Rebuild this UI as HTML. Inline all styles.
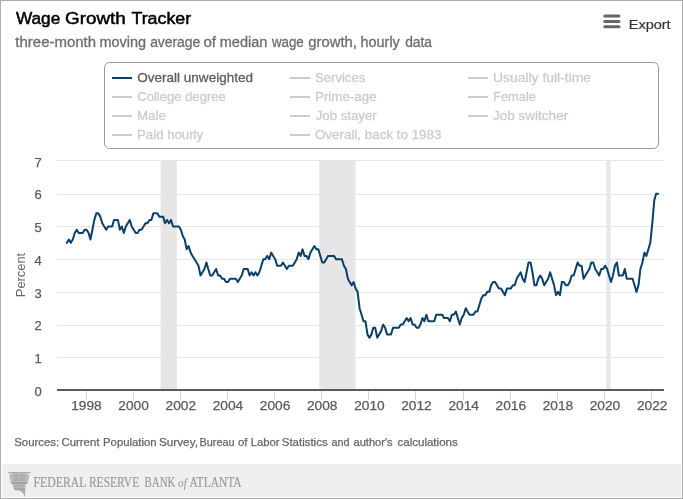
<!DOCTYPE html>
<html lang="en"><head><meta charset="utf-8"><title>Wage Growth Tracker</title>
<style>html,body{margin:0;padding:0;background:#fff}svg{display:block}text{font-family:"Liberation Sans", sans-serif}</style>
</head><body>
<svg width="683" height="499" viewBox="0 0 683 499">
<rect x="0" y="0" width="683" height="499" fill="#fff"/>
<rect x="2" y="464" width="679" height="33" fill="#efefef"/>
<rect x="0.5" y="0.5" width="682" height="498" fill="none" stroke="#adadab" stroke-width="1"/>
<line x1="604.8" y1="16.1" x2="619" y2="16.1" stroke="#666" stroke-width="3" stroke-linecap="round"/>
<line x1="604.8" y1="21.4" x2="619" y2="21.4" stroke="#666" stroke-width="3" stroke-linecap="round"/>
<line x1="604.8" y1="26.7" x2="619" y2="26.7" stroke="#666" stroke-width="3" stroke-linecap="round"/>
<rect x="104.5" y="62.5" width="554" height="86" rx="5" ry="5" fill="#fff" stroke="#999" stroke-width="1"/>
<line x1="112.0" y1="78.0" x2="132.0" y2="78.0" stroke="#0a4067" stroke-width="2"/>
<line x1="112.0" y1="97.0" x2="132.0" y2="97.0" stroke="#ccc" stroke-width="2"/>
<line x1="112.0" y1="116.0" x2="132.0" y2="116.0" stroke="#ccc" stroke-width="2"/>
<line x1="112.0" y1="135.0" x2="132.0" y2="135.0" stroke="#ccc" stroke-width="2"/>
<line x1="290.0" y1="78.0" x2="310.0" y2="78.0" stroke="#ccc" stroke-width="2"/>
<line x1="290.0" y1="97.0" x2="310.0" y2="97.0" stroke="#ccc" stroke-width="2"/>
<line x1="290.0" y1="116.0" x2="310.0" y2="116.0" stroke="#ccc" stroke-width="2"/>
<line x1="290.0" y1="135.0" x2="310.0" y2="135.0" stroke="#ccc" stroke-width="2"/>
<line x1="468.0" y1="78.0" x2="488.0" y2="78.0" stroke="#ccc" stroke-width="2"/>
<line x1="468.0" y1="97.0" x2="488.0" y2="97.0" stroke="#ccc" stroke-width="2"/>
<line x1="468.0" y1="116.0" x2="488.0" y2="116.0" stroke="#ccc" stroke-width="2"/>
<rect x="160.60" y="161" width="16.30" height="229" fill="#e6e6e6"/>
<rect x="319.30" y="161" width="36.20" height="229" fill="#e6e6e6"/>
<rect x="606.50" y="161" width="4.10" height="229" fill="#e6e6e6"/>
<line x1="57" y1="357.5" x2="664" y2="357.5" stroke="#e6e6e6" stroke-width="1"/>
<line x1="57" y1="325.5" x2="664" y2="325.5" stroke="#e6e6e6" stroke-width="1"/>
<line x1="57" y1="292.5" x2="664" y2="292.5" stroke="#e6e6e6" stroke-width="1"/>
<line x1="57" y1="259.5" x2="664" y2="259.5" stroke="#e6e6e6" stroke-width="1"/>
<line x1="57" y1="226.5" x2="664" y2="226.5" stroke="#e6e6e6" stroke-width="1"/>
<line x1="57" y1="194.5" x2="664" y2="194.5" stroke="#e6e6e6" stroke-width="1"/>
<line x1="57" y1="160.5" x2="664" y2="160.5" stroke="#e6e6e6" stroke-width="1"/>
<text x="38.2" y="395.6" font-size="13" fill="#5a5a5a" stroke="#5a5a5a" stroke-width="0.25" text-anchor="middle">0</text>
<text x="38.2" y="362.9" font-size="13" fill="#5a5a5a" stroke="#5a5a5a" stroke-width="0.25" text-anchor="middle">1</text>
<text x="38.2" y="330.2" font-size="13" fill="#5a5a5a" stroke="#5a5a5a" stroke-width="0.25" text-anchor="middle">2</text>
<text x="38.2" y="297.5" font-size="13" fill="#5a5a5a" stroke="#5a5a5a" stroke-width="0.25" text-anchor="middle">3</text>
<text x="38.2" y="264.8" font-size="13" fill="#5a5a5a" stroke="#5a5a5a" stroke-width="0.25" text-anchor="middle">4</text>
<text x="38.2" y="232.0" font-size="13" fill="#5a5a5a" stroke="#5a5a5a" stroke-width="0.25" text-anchor="middle">5</text>
<text x="38.2" y="199.3" font-size="13" fill="#5a5a5a" stroke="#5a5a5a" stroke-width="0.25" text-anchor="middle">6</text>
<text x="38.2" y="166.6" font-size="13" fill="#5a5a5a" stroke="#5a5a5a" stroke-width="0.25" text-anchor="middle">7</text>
<text transform="translate(25.2,275) rotate(-90)" font-size="13" fill="#666" text-anchor="middle" textLength="44.3" lengthAdjust="spacingAndGlyphs">Percent</text>
<line x1="86.5" y1="391" x2="86.5" y2="400" stroke="#ccd6eb" stroke-width="1"/>
<text x="86.5" y="410" font-size="13" fill="#5a5a5a" stroke="#5a5a5a" stroke-width="0.25" text-anchor="middle" textLength="30.5" lengthAdjust="spacingAndGlyphs">1998</text>
<line x1="133.5" y1="391" x2="133.5" y2="400" stroke="#ccd6eb" stroke-width="1"/>
<text x="133.6" y="410" font-size="13" fill="#5a5a5a" stroke="#5a5a5a" stroke-width="0.25" text-anchor="middle" textLength="30.5" lengthAdjust="spacingAndGlyphs">2000</text>
<line x1="180.5" y1="391" x2="180.5" y2="400" stroke="#ccd6eb" stroke-width="1"/>
<text x="180.8" y="410" font-size="13" fill="#5a5a5a" stroke="#5a5a5a" stroke-width="0.25" text-anchor="middle" textLength="30.5" lengthAdjust="spacingAndGlyphs">2002</text>
<line x1="227.5" y1="391" x2="227.5" y2="400" stroke="#ccd6eb" stroke-width="1"/>
<text x="227.9" y="410" font-size="13" fill="#5a5a5a" stroke="#5a5a5a" stroke-width="0.25" text-anchor="middle" textLength="30.5" lengthAdjust="spacingAndGlyphs">2004</text>
<line x1="274.5" y1="391" x2="274.5" y2="400" stroke="#ccd6eb" stroke-width="1"/>
<text x="275.1" y="410" font-size="13" fill="#5a5a5a" stroke="#5a5a5a" stroke-width="0.25" text-anchor="middle" textLength="30.5" lengthAdjust="spacingAndGlyphs">2006</text>
<line x1="321.5" y1="391" x2="321.5" y2="400" stroke="#ccd6eb" stroke-width="1"/>
<text x="322.2" y="410" font-size="13" fill="#5a5a5a" stroke="#5a5a5a" stroke-width="0.25" text-anchor="middle" textLength="30.5" lengthAdjust="spacingAndGlyphs">2008</text>
<line x1="368.5" y1="391" x2="368.5" y2="400" stroke="#ccd6eb" stroke-width="1"/>
<text x="369.4" y="410" font-size="13" fill="#5a5a5a" stroke="#5a5a5a" stroke-width="0.25" text-anchor="middle" textLength="30.5" lengthAdjust="spacingAndGlyphs">2010</text>
<line x1="415.5" y1="391" x2="415.5" y2="400" stroke="#ccd6eb" stroke-width="1"/>
<text x="416.5" y="410" font-size="13" fill="#5a5a5a" stroke="#5a5a5a" stroke-width="0.25" text-anchor="middle" textLength="30.5" lengthAdjust="spacingAndGlyphs">2012</text>
<line x1="463.5" y1="391" x2="463.5" y2="400" stroke="#ccd6eb" stroke-width="1"/>
<text x="463.7" y="410" font-size="13" fill="#5a5a5a" stroke="#5a5a5a" stroke-width="0.25" text-anchor="middle" textLength="30.5" lengthAdjust="spacingAndGlyphs">2014</text>
<line x1="510.5" y1="391" x2="510.5" y2="400" stroke="#ccd6eb" stroke-width="1"/>
<text x="510.8" y="410" font-size="13" fill="#5a5a5a" stroke="#5a5a5a" stroke-width="0.25" text-anchor="middle" textLength="30.5" lengthAdjust="spacingAndGlyphs">2016</text>
<line x1="557.5" y1="391" x2="557.5" y2="400" stroke="#ccd6eb" stroke-width="1"/>
<text x="557.9" y="410" font-size="13" fill="#5a5a5a" stroke="#5a5a5a" stroke-width="0.25" text-anchor="middle" textLength="30.5" lengthAdjust="spacingAndGlyphs">2018</text>
<line x1="604.5" y1="391" x2="604.5" y2="400" stroke="#ccd6eb" stroke-width="1"/>
<text x="605.0" y="410" font-size="13" fill="#5a5a5a" stroke="#5a5a5a" stroke-width="0.25" text-anchor="middle" textLength="30.5" lengthAdjust="spacingAndGlyphs">2020</text>
<line x1="651.5" y1="391" x2="651.5" y2="400" stroke="#ccd6eb" stroke-width="1"/>
<text x="652.2" y="410" font-size="13" fill="#5a5a5a" stroke="#5a5a5a" stroke-width="0.25" text-anchor="middle" textLength="30.5" lengthAdjust="spacingAndGlyphs">2022</text>
<path d="M 66.85 242.81 L 68.85 239.53 L 70.79 242.81 L 72.79 239.53 L 74.73 232.99 L 76.73 229.72 L 78.73 232.99 L 80.66 232.99 L 82.66 232.99 L 84.60 229.72 L 86.60 229.72 L 88.60 232.99 L 90.41 239.53 L 92.41 229.72 L 94.34 219.91 L 96.34 213.37 L 98.28 213.37 L 100.28 216.64 L 102.28 223.18 L 104.22 226.45 L 106.22 229.72 L 108.15 226.45 L 110.15 226.45 L 112.16 226.45 L 113.96 219.91 L 115.96 219.91 L 117.90 219.91 L 119.90 229.72 L 121.84 226.45 L 123.84 232.99 L 125.84 226.45 L 127.77 223.18 L 129.77 219.91 L 131.71 226.45 L 133.71 229.72 L 135.71 232.99 L 137.58 232.99 L 139.58 229.72 L 141.52 229.72 L 143.52 226.45 L 145.45 223.18 L 147.45 223.18 L 149.46 219.91 L 151.39 219.91 L 153.39 213.37 L 155.33 213.37 L 157.33 213.37 L 159.33 216.64 L 161.14 216.64 L 163.14 216.64 L 165.07 223.18 L 167.07 219.91 L 169.01 223.18 L 171.01 219.91 L 173.01 226.45 L 174.95 226.45 L 176.95 226.45 L 178.88 226.45 L 180.88 229.72 L 182.88 236.26 L 184.69 239.53 L 186.69 249.35 L 188.63 246.08 L 190.63 252.62 L 192.56 255.89 L 194.56 259.16 L 196.56 262.43 L 198.50 265.70 L 200.50 275.51 L 202.44 272.24 L 204.44 268.97 L 206.44 262.43 L 208.24 268.97 L 210.25 275.51 L 212.18 275.51 L 214.18 272.24 L 216.12 268.97 L 218.12 275.51 L 220.12 275.51 L 222.05 278.79 L 224.06 278.79 L 225.99 282.06 L 227.99 282.06 L 229.99 278.79 L 231.86 278.79 L 233.86 278.79 L 235.80 278.79 L 237.80 282.06 L 239.74 278.79 L 241.74 275.51 L 243.74 268.97 L 245.67 268.97 L 247.67 268.97 L 249.61 275.51 L 251.61 272.24 L 253.61 275.51 L 255.42 272.24 L 257.42 275.51 L 259.35 272.24 L 261.36 265.70 L 263.29 259.16 L 265.29 259.16 L 267.29 255.89 L 269.23 259.16 L 271.23 252.62 L 273.16 255.89 L 275.17 259.16 L 277.17 265.70 L 278.97 265.70 L 280.97 265.70 L 282.91 262.43 L 284.91 265.70 L 286.85 268.97 L 288.85 265.70 L 290.85 265.70 L 292.78 265.70 L 294.78 262.43 L 296.72 259.16 L 298.72 252.62 L 300.72 255.89 L 302.53 249.35 L 304.53 255.89 L 306.46 255.89 L 308.46 259.16 L 310.40 252.62 L 312.40 249.35 L 314.40 246.08 L 316.34 249.35 L 318.34 249.35 L 320.27 255.89 L 322.27 262.43 L 324.28 262.43 L 326.15 259.16 L 328.15 255.89 L 330.08 255.89 L 332.08 255.89 L 334.02 255.89 L 336.02 259.16 L 338.02 259.16 L 339.96 259.16 L 341.96 259.16 L 343.89 265.70 L 345.89 268.97 L 347.89 278.79 L 349.70 282.06 L 351.70 285.33 L 353.64 282.06 L 355.64 288.60 L 357.57 291.87 L 359.57 308.23 L 361.58 314.77 L 363.51 321.31 L 365.51 321.31 L 367.45 334.39 L 369.45 337.66 L 371.45 334.39 L 373.26 327.85 L 375.26 327.85 L 377.19 337.66 L 379.19 334.39 L 381.13 331.12 L 383.13 324.58 L 385.13 327.85 L 387.07 334.39 L 389.07 334.39 L 391.00 334.39 L 393.00 327.85 L 395.00 327.85 L 396.81 327.85 L 398.81 327.85 L 400.75 324.58 L 402.75 324.58 L 404.68 321.31 L 406.68 318.04 L 408.68 321.31 L 410.62 318.04 L 412.62 324.58 L 414.56 324.58 L 416.56 327.85 L 418.56 327.85 L 420.43 324.58 L 422.43 318.04 L 424.37 321.31 L 426.37 314.77 L 428.30 321.31 L 430.30 321.31 L 432.30 321.31 L 434.24 321.31 L 436.24 314.77 L 438.18 314.77 L 440.18 314.77 L 442.18 314.77 L 443.98 318.04 L 445.98 318.04 L 447.92 318.04 L 449.92 321.31 L 451.86 314.77 L 453.86 314.77 L 455.86 311.50 L 457.79 318.04 L 459.79 324.58 L 461.73 318.04 L 463.73 314.77 L 465.73 308.23 L 467.54 311.50 L 469.54 314.77 L 471.47 314.77 L 473.48 314.77 L 475.41 311.50 L 477.41 311.50 L 479.41 304.95 L 481.35 298.41 L 483.35 295.14 L 485.28 295.14 L 487.29 291.87 L 489.29 291.87 L 491.09 285.33 L 493.09 282.06 L 495.03 282.06 L 497.03 285.33 L 498.97 288.60 L 500.97 288.60 L 502.97 291.87 L 504.90 295.14 L 506.90 288.60 L 508.84 288.60 L 510.84 288.60 L 512.84 285.33 L 514.71 285.33 L 516.71 278.79 L 518.65 275.51 L 520.65 272.24 L 522.58 278.79 L 524.59 282.06 L 526.59 272.24 L 528.52 262.43 L 530.52 262.43 L 532.46 272.24 L 534.46 285.33 L 536.46 285.33 L 538.27 278.79 L 540.27 275.51 L 542.20 278.79 L 544.20 285.33 L 546.14 282.06 L 548.14 278.79 L 550.14 272.24 L 552.08 278.79 L 554.08 285.33 L 556.01 295.14 L 558.01 291.87 L 560.01 295.14 L 561.82 282.06 L 563.82 282.06 L 565.76 285.33 L 567.76 285.33 L 569.69 282.06 L 571.69 275.51 L 573.70 275.51 L 575.63 268.97 L 577.63 262.43 L 579.57 265.70 L 581.57 265.70 L 583.57 278.79 L 585.38 275.51 L 587.38 272.24 L 589.31 268.97 L 591.31 262.43 L 593.25 262.43 L 595.25 268.97 L 597.25 272.24 L 599.19 275.51 L 601.19 268.97 L 603.12 268.97 L 605.12 265.70 L 607.12 268.97 L 608.99 275.51 L 611.00 282.06 L 612.93 275.51 L 614.93 265.70 L 616.87 262.43 L 618.87 275.51 L 620.87 275.51 L 622.80 275.51 L 624.81 268.97 L 626.74 278.79 L 628.74 278.79 L 630.74 278.79 L 632.55 278.79 L 634.55 285.33 L 636.49 291.87 L 638.49 285.33 L 640.42 268.97 L 642.42 262.43 L 644.42 252.62 L 646.36 255.89 L 648.36 249.35 L 650.30 242.81 L 652.30 223.18 L 654.30 200.28 L 656.10 193.74 L 658.10 193.74" fill="none" stroke="#0a4067" stroke-width="2" stroke-linejoin="round" stroke-linecap="round"/>
<line x1="57" y1="390" x2="664" y2="390" stroke="#5a5a5a" stroke-width="2"/>
<g id="logo">
<rect x="8.1" y="472.1" width="22.4" height="1" fill="#a6a6a6"/>
<path d="M9.2 473.3 L29.4 473.3 L29.0 476 L28.2 481.4 L10.4 481.4 L9.6 476 Z" fill="#cfcfd1"/>
<g fill="none" stroke="#98989c" stroke-width="0.75">
<ellipse cx="14.9" cy="477.2" rx="4.6" ry="3.4"/><ellipse cx="14.9" cy="477.2" rx="3" ry="2.1"/><ellipse cx="14.9" cy="477.2" rx="1.4" ry="0.9"/>
<ellipse cx="23.7" cy="477.2" rx="4.6" ry="3.4"/><ellipse cx="23.7" cy="477.2" rx="3" ry="2.1"/><ellipse cx="23.7" cy="477.2" rx="1.4" ry="0.9"/>
<ellipse cx="19.3" cy="477.2" rx="3.2" ry="3.4"/>
</g>
<path d="M10.2 481.6 H28.4 L27.6 483.2 L26 483.9 H12.6 L11 483.2 Z" fill="#a4a4a4"/>
<path d="M12.3 483.9 H26 L25.4 487.9 H13.6 Z" fill="#bdbdbd"/>
<g stroke="#a0a0a0" stroke-width="0.8"><line x1="14.6" y1="484.6" x2="14.9" y2="487.6"/><line x1="16.8" y1="484.6" x2="17" y2="487.6"/><line x1="19.1" y1="484.6" x2="19.1" y2="487.6"/><line x1="21.4" y1="484.6" x2="21.3" y2="487.6"/><line x1="23.6" y1="484.6" x2="23.4" y2="487.6"/></g>
<path d="M13.7 487.9 H25.3 L24.9 497.2 L23.4 493.6 Q21.5 491.3 19 490.6 Q15.2 490.2 13.9 489.4 Z" fill="#a9a9a9"/>
</g>
<text y="24.3" font-size="17.2" fill="#000" stroke="#000" stroke-width="0.5"><tspan x="15.97" textLength="44.27" lengthAdjust="spacingAndGlyphs">Wage</tspan> <tspan x="65.11" textLength="60.71" lengthAdjust="spacingAndGlyphs">Growth</tspan> <tspan x="131.42" textLength="59.76" lengthAdjust="spacingAndGlyphs">Tracker</tspan></text>
<text y="47.0" font-size="14" fill="#6e6e6e" stroke="#6e6e6e" stroke-width="0.3"><tspan x="15.36" textLength="80.66" lengthAdjust="spacingAndGlyphs">three-month</tspan> <tspan x="99.46" textLength="46.69" lengthAdjust="spacingAndGlyphs">moving</tspan> <tspan x="150.16" textLength="50.09" lengthAdjust="spacingAndGlyphs">average</tspan> <tspan x="203.43" textLength="12.68" lengthAdjust="spacingAndGlyphs">of</tspan> <tspan x="219.69" textLength="47.68" lengthAdjust="spacingAndGlyphs">median</tspan> <tspan x="271.93" textLength="31.74" lengthAdjust="spacingAndGlyphs">wage</tspan> <tspan x="308.31" textLength="48.70" lengthAdjust="spacingAndGlyphs">growth,</tspan> <tspan x="360.57" textLength="39.28" lengthAdjust="spacingAndGlyphs">hourly</tspan> <tspan x="405.15" textLength="26.91" lengthAdjust="spacingAndGlyphs">data</tspan></text>
<text y="445.8" font-size="11" fill="#666" stroke="#666" stroke-width="0.25"><tspan x="14.22" textLength="44.92" lengthAdjust="spacingAndGlyphs">Sources:</tspan> <tspan x="61.46" textLength="37.98" lengthAdjust="spacingAndGlyphs">Current</tspan> <tspan x="103.00" textLength="53.64" lengthAdjust="spacingAndGlyphs">Population</tspan> <tspan x="158.97" textLength="38.93" lengthAdjust="spacingAndGlyphs">Survey,</tspan> <tspan x="199.53" textLength="35.14" lengthAdjust="spacingAndGlyphs">Bureau</tspan> <tspan x="238.05" textLength="9.44" lengthAdjust="spacingAndGlyphs">of</tspan> <tspan x="250.65" textLength="28.79" lengthAdjust="spacingAndGlyphs">Labor</tspan> <tspan x="281.74" textLength="45.92" lengthAdjust="spacingAndGlyphs">Statistics</tspan> <tspan x="331.48" textLength="18.09" lengthAdjust="spacingAndGlyphs">and</tspan> <tspan x="353.48" textLength="39.21" lengthAdjust="spacingAndGlyphs">author's</tspan> <tspan x="397.46" textLength="60.28" lengthAdjust="spacingAndGlyphs">calculations</tspan></text>
<text x="628.73" y="28.5" font-size="13" fill="#333" stroke="#333" stroke-width="0.2" textLength="41.90" lengthAdjust="spacingAndGlyphs">Export</text>
<text x="137.32" y="82.3" font-size="13" fill="#5e5e5e" stroke="#5e5e5e" stroke-width="0.3" textLength="115.64" lengthAdjust="spacingAndGlyphs">Overall unweighted</text>
<text x="137.28" y="101.3" font-size="13" fill="#ccc" stroke="#ccc" stroke-width="0.3" textLength="88.48" lengthAdjust="spacingAndGlyphs">College degree</text>
<text x="137.03" y="120.3" font-size="13" fill="#ccc" stroke="#ccc" stroke-width="0.3" textLength="28.90" lengthAdjust="spacingAndGlyphs">Male</text>
<text x="137.02" y="139.3" font-size="13" fill="#ccc" stroke="#ccc" stroke-width="0.3" textLength="66.16" lengthAdjust="spacingAndGlyphs">Paid hourly</text>
<text x="315.07" y="82.3" font-size="13" fill="#ccc" stroke="#ccc" stroke-width="0.3" textLength="50.18" lengthAdjust="spacingAndGlyphs">Services</text>
<text x="314.97" y="101.3" font-size="13" fill="#ccc" stroke="#ccc" stroke-width="0.3" textLength="61.67" lengthAdjust="spacingAndGlyphs">Prime-age</text>
<text x="315.65" y="120.3" font-size="13" fill="#ccc" stroke="#ccc" stroke-width="0.3" textLength="61.11" lengthAdjust="spacingAndGlyphs">Job stayer</text>
<text x="314.95" y="139.3" font-size="13" fill="#ccc" stroke="#ccc" stroke-width="0.3" textLength="126.53" lengthAdjust="spacingAndGlyphs">Overall, back to 1983</text>
<text x="493.03" y="82.3" font-size="13" fill="#ccc" stroke="#ccc" stroke-width="0.3" textLength="98.05" lengthAdjust="spacingAndGlyphs">Usually full-time</text>
<text x="493.04" y="101.3" font-size="13" fill="#ccc" stroke="#ccc" stroke-width="0.3" textLength="42.96" lengthAdjust="spacingAndGlyphs">Female</text>
<text x="492.97" y="120.3" font-size="13" fill="#ccc" stroke="#ccc" stroke-width="0.3" textLength="75.21" lengthAdjust="spacingAndGlyphs">Job switcher</text>
<text y="487.2" font-size="13.8" fill="#9b9b9f" stroke="#9b9b9f" stroke-width="0.2" style="font-family:'Liberation Serif',serif"><tspan x="33.50" textLength="52.47" lengthAdjust="spacingAndGlyphs">FEDERAL</tspan> <tspan x="88.92" textLength="50.30" lengthAdjust="spacingAndGlyphs">RESERVE</tspan> <tspan x="144.47" textLength="30.95" lengthAdjust="spacingAndGlyphs">BANK</tspan> <tspan x="178.12" textLength="8.68" lengthAdjust="spacingAndGlyphs" font-style="italic" font-size="12.6" stroke-width="0.1">of</tspan> <tspan x="189.60" textLength="52.04" lengthAdjust="spacingAndGlyphs">ATLANTA</tspan></text>
</svg>
</body></html>
